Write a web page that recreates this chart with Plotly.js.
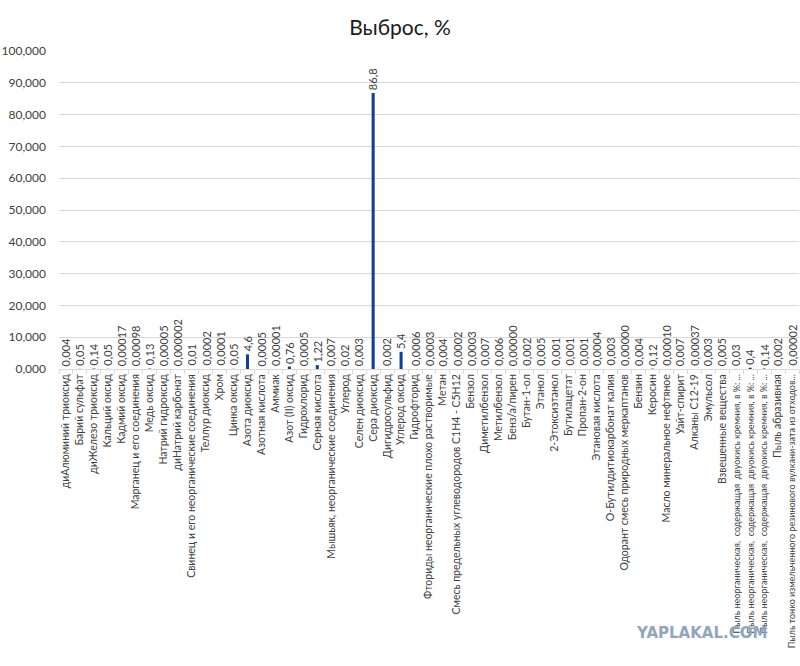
<!DOCTYPE html>
<html>
<head>
<meta charset="utf-8">
<script src="https://cdn.plot.ly/plotly-3.0.1.min.js"></script>
<style>html,body{margin:0;padding:0;background:#fff;}#chart{width:800px;height:666px;}</style>
</head>
<body>
<div id="chart"></div>
<script>
var categories = [
  "диАлюминий триоксид","Барий сульфат","диЖелезо триоксид","Кальций оксид","Кадмий оксид",
  "Марганец и его соединения","Медь оксид","Натрий гидроксид","диНатрий карбонат",
  "Свинец и его неорганические соединения","Теллур диоксид","Хром","Цинка оксид",
  "Азота диоксид","Азотная кислота","Аммиак","Азот (II) оксид","Гидрохлорид","Серная кислота",
  "Мышьяк, неорганические соединения","Углерод","Селен диоксид","Сера диоксид","Дигидросульфид",
  "Углерод оксид","Гидрофторид","Фториды неорганические плохо растворимые","Метан",
  "Смесь предельных углеводородов C1H4 - C5H12","Бензол","Диметилбензол","Метилбензол",
  "Бенз/а/пирен","Бутан-1-ол","Этанол","2-Этоксиэтанол","Бутилацетат","Пропан-2-он",
  "Этановая кислота","О-Бутилдитиокарбонат калия","Одорант смесь природных меркаптанов",
  "Бензин","Керосин","Масло минеральное нефтяное","Уайт-спирит","Алканы C12-19","Эмульсол",
  "Взвешенные вещества",
  "Пыль неорганическая,  содержащая  двуокись кремния, в %: ...",
  "Пыль неорганическая,  содержащая  двуокись кремния, в %: ...",
  "Пыль неорганическая,  содержащая  двуокись кремния, в %: ...",
  "Пыль абразивная",
  "Пыль тонко измельченного резинового вулкани-зата из отходов..."
];
var values = [
  0.004,0.05,0.14,0.05,0.00017,
  0.00098,0.13,0.00005,0.000002,
  0.01,0.0002,0.0001,0.05,
  4.6,0.0005,0.00001,0.76,0.0005,1.22,
  0.007,0.02,0.003,86.8,0.002,
  5.4,0.0006,0.0003,0.004,
  0.0002,0.0003,0.007,0.006,
  0.000001,0.002,0.005,0.001,0.001,0.001,
  0.0004,0.003,0.000001,
  0.004,0.12,0.0001,0.007,0.00037,0.003,
  0.005,
  0.03,0.4,0.14,0.002,0.00002
];
var valueLabels = [
  "0,004","0,05","0,14","0,05","0,00017",
  "0,00098","0,13","0,00005","0,000002",
  "0,01","0,0002","0,0001","0,05",
  "4,6","0,0005","0,00001","0,76","0,0005","1,22",
  "0,007","0,02","0,003","86,8","0,002",
  "5,4","0,0006","0,0003","0,004",
  "0,0002","0,0003","0,007","0,006",
  "0,00000","0,002","0,005","0,001","0,001","0,001",
  "0,0004","0,003","0,00000",
  "0,004","0,12","0,00010","0,007","0,00037","0,003",
  "0,005",
  "0,03","0,4","0,14","0,002","0,00002"
];
var yTicks = [0,10,20,30,40,50,60,70,80,90,100];

var idx = categories.map(function(_, i){ return i; });
var font = 'Lato, "Noto Sans", sans-serif';

// very long category names are drawn slightly smaller so they fit the page
var tickText = categories.map(function(c){
  return c.length > 45 ? '<span style="font-size:9px">' + c + '</span>' : c;
});

var trace = {
  type: 'bar',
  x: idx,
  y: values,
  marker: {color: '#0e3f9e'},
  hoverinfo: 'x+y'
};

var labelAnns = idx.map(function(i){
  return {
    x: i, y: values[i], xref: 'x', yref: 'y',
    text: valueLabels[i], textangle: -90, showarrow: false,
    xanchor: 'center', yanchor: 'bottom', yshift: 1,
    font: {family: font, size: 11, color: '#404040'}
  };
});

labelAnns.push({
  text: '<b>YAPLAKAL.COM</b>', xref: 'paper', yref: 'paper',
  x: 0.96, y: -0.83, xanchor: 'right', yanchor: 'middle', showarrow: false,
  font: {family: '"DejaVu Sans", sans-serif', size: 15, color: '#8fa6bd'}
});

var layout = {
  width: 800, height: 666,
  margin: {l: 59, r: 1, t: 51, b: 297, pad: 0},
  paper_bgcolor: '#fff', plot_bgcolor: '#fff',
  separators: ', ',
  bargap: 0.78,
  showlegend: false,
  title: {text: 'Выброс, %', x: 0.5, xanchor: 'center', y: 0.958, yanchor: 'middle',
          font: {family: font, size: 21, color: '#1a1a1a'}},
  xaxis: {
    type: 'linear',
    range: [-0.5, categories.length - 0.5],
    tickmode: 'array', tickvals: idx, ticktext: tickText,
    tickangle: -90, ticks: '', ticklen: 5,
    tickfont: {family: font, size: 10.5, color: '#404040'},
    showgrid: false, zeroline: false,
    showline: true, linecolor: '#d9d9d9', linewidth: 1,
    minor: {ticks: 'outside', tick0: 0.5, dtick: 1, ticklen: 4, tickcolor: '#d9d9d9', showgrid: false},
    automargin: false, fixedrange: true
  },
  yaxis: {
    range: [0, 100],
    tickmode: 'array', tickvals: yTicks,
    tickformat: '.3f',
    ticklabelstandoff: 12,
    tickfont: {family: font, size: 12, color: '#404040'},
    gridcolor: '#d9d9d9', gridwidth: 1,
    zeroline: false, showline: false, ticks: '',
    automargin: false, fixedrange: true
  },
  annotations: labelAnns
};

Plotly.newPlot('chart', [trace], layout, {displayModeBar: false, staticPlot: true});
</script>
</body>
</html>
